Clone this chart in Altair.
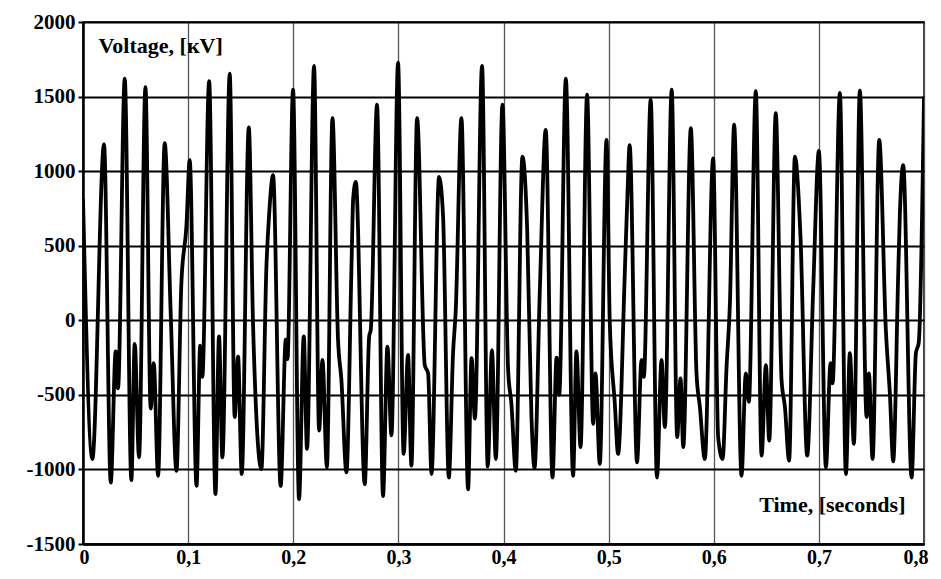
import altair as alt
import pandas as pd

# Time axis (seconds) and voltage (kV)
time_s = [
    0.0, 0.0089, 0.020, 0.0264, 0.0311, 0.0333, 0.0397, 0.046, 0.0492, 0.0533,
    0.0594, 0.0644, 0.0673, 0.0714, 0.0777, 0.0835, 0.0889, 0.0936, 0.0984, 0.1015,
    0.108, 0.1115, 0.1135, 0.12, 0.126, 0.1294, 0.1326, 0.1396, 0.1443, 0.1475,
    0.151, 0.1577, 0.1618, 0.1697, 0.1745, 0.1770, 0.1808, 0.188, 0.1929, 0.1945,
    0.1998, 0.2055, 0.21, 0.2131, 0.2198, 0.2246, 0.2278, 0.232, 0.2373, 0.2426,
    0.2458, 0.2506, 0.2554, 0.2570, 0.2595, 0.268, 0.2722, 0.2738, 0.2797, 0.2854,
    0.2896, 0.2934, 0.2997, 0.305, 0.3092, 0.3124, 0.3178, 0.3251, 0.3283, 0.3315,
    0.3387, 0.3425, 0.348, 0.352, 0.3546, 0.36, 0.3663, 0.3696, 0.3728, 0.3796,
    0.385, 0.389, 0.3927, 0.399, 0.4044, 0.4075, 0.4117, 0.418, 0.4225, 0.4266,
    0.4295, 0.4345, 0.4402, 0.4466, 0.4505, 0.4530, 0.4593, 0.4662, 0.4694, 0.4733,
    0.4795, 0.4853, 0.4875, 0.4916, 0.498, 0.5011, 0.5059, 0.509, 0.5154, 0.5180,
    0.52, 0.527, 0.5313, 0.5335, 0.54, 0.546, 0.5503, 0.5535, 0.56, 0.5652,
    0.5684, 0.571, 0.5782, 0.5836, 0.5868, 0.5915, 0.5994, 0.6042, 0.6084, 0.6122,
    0.6154, 0.6194, 0.6264, 0.6305, 0.6334, 0.64, 0.6455, 0.6496, 0.6528, 0.659,
    0.6645, 0.6677, 0.6717, 0.6772, 0.6825, 0.6889, 0.6946, 0.70, 0.7067, 0.7111,
    0.7130, 0.72, 0.7257, 0.7295, 0.7333, 0.739, 0.7454, 0.7476, 0.7511, 0.7574,
    0.7637, 0.7676, 0.7707, 0.7755, 0.7771, 0.7802, 0.7882, 0.7923, 0.7950, 0.8,
]

voltage_kv = [
    815, -930, 1180, -1088, -209, -457, 1620, -1072, -158, -919,
    1563, -592, -288, -1043, 1187, 30, -1009, 252, 635, 1074,
    -1110, -170, -380, 1603, -1166, -108, -919, 1653, -649, -243,
    -1031, 1293, -40, -998, 365, 703, 973, -1110, -130, -260,
    1547, -1200, -108, -862, 1705, -739, -266, -986, 1356, -130,
    -400, -1020, 365, 815, 928, -1099, -110, -60, 1446, -1178,
    -176, -772, 1727, -896, -232, -975, 1356, -300, -356, -1031,
    962, 700, -1054, -221, 72, 1356, -1133, -254, -660, 1705,
    -980, -200, -930, 1446, -333, -558, -1009, 1097, 612, -649,
    -990, 185, 1277, -1054, -250, -500, 1621, -1043, -209, -851,
    1513, -694, -356, -964, 1209, -18, -558, -896, 320, 860,
    1175, -953, -266, -380, 1480, -1054, -266, -716, 1547, -784,
    -390, -851, 1288, -356, -581, -930, 1085, -784, -930, -311,
    117, 1311, -1043, -356, -547, 1536, -908, -300, -806, 1389,
    -400, -581, -941, 1097, 560, -908, 207, 1135, -986, -288,
    -423, 1525, -1031, -221, -829, 1540, -649, -356, -930, 1209,
    -63, -500, -946, 320, 725, 1040, -1054, -220, -150, 1500,
]

x_ticks = [0, 0.1, 0.2, 0.3, 0.4, 0.5, 0.6, 0.7, 0.8]
y_ticks = [-1500, -1000, -500, 0, 500, 1000, 1500, 2000]

df = pd.DataFrame({"t": time_s, "v": voltage_kv})

chart = (
    alt.Chart(df)
    .mark_line(color="black", strokeWidth=3.8, interpolate="monotone", clip=True)
    .encode(
        x=alt.X(
            "t:Q",
            scale=alt.Scale(domain=[0, 0.8], nice=False, zero=False),
            axis=alt.Axis(
                values=x_ticks,
                labelExpr="replace(toString(datum.value), '.', ',')",
                title="Time, [seconds]",
                titleX=822,
                titleY=-40,
                titleAlign="right",
                titleBaseline="middle",
                titleAngle=0,
                grid=True,
                gridColor="#555555",
                gridWidth=1.3,
                domainColor="black",
                domainWidth=2.5,
                ticks=False,
                labelPadding=3,
                labelFontSize=20,
                labelFlush=True,
                labelFlushOffset=4,
            ),
        ),
        y=alt.Y(
            "v:Q",
            scale=alt.Scale(domain=[-1500, 2000], nice=False, zero=False),
            axis=alt.Axis(
                values=y_ticks,
                labelExpr="toString(datum.value)",
                title="Voltage, [кV]",
                titleX=15,
                titleY=23,
                titleAngle=0,
                titleAlign="left",
                titleBaseline="middle",
                grid=True,
                gridColor="black",
                gridWidth=2,
                domainColor="black",
                domainWidth=2.5,
                ticks=True,
                tickColor="black",
                tickWidth=2,
                tickSize=5,
                labelPadding=3,
                labelFlush=False,
            ),
        ),
    )
    .properties(
        width=841,
        height=522,
        autosize=alt.AutoSizeParams(type="none"),
        padding={"left": 75, "top": 14, "right": 9, "bottom": 27},
        background="white",
    )
    .configure_view(stroke="black", strokeWidth=1.5)
    .configure_axis(
        labelFont="Liberation Serif",
        labelFontWeight="bold",
        labelFontSize=21,
        labelColor="black",
        titleFont="Liberation Serif",
        titleFontWeight="bold",
        titleFontSize=22,
        titleColor="black",
    )
)

chart.save("out.html", embed_options={"renderer": "svg", "actions": False})
